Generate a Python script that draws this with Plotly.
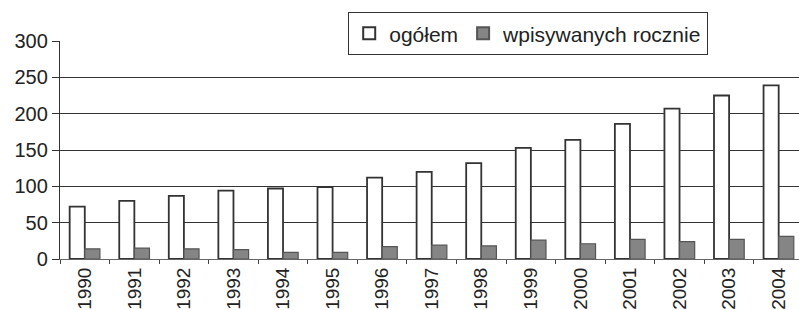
import plotly.graph_objects as go

years = [str(y) for y in range(1990, 2005)]
ogolem = [72, 80, 87, 94, 97, 99, 112, 120, 132, 153, 164, 186, 207, 225, 239]
wpisywanych = [14, 15, 14, 13, 9, 9, 17, 19, 18, 26, 21, 27, 24, 27, 31]

font_family = "Liberation Sans, Arial, sans-serif"
txt = "#222222"

fig = go.Figure()
fig.add_trace(go.Bar(
    x=years, y=ogolem, name="ogółem",
    marker=dict(color="white", line=dict(color="#333333", width=1.8)),
))
fig.add_trace(go.Bar(
    x=years, y=wpisywanych, name="wpisywanych rocznie",
    marker=dict(color="#858585", line=dict(color="#555555", width=1.2)),
))

fig.update_layout(
    width=799, height=310,
    margin=dict(l=60, r=0, t=41, b=51, pad=0, autoexpand=False),
    paper_bgcolor="white", plot_bgcolor="white",
    barmode="group", bargap=0.39, bargroupgap=0,
    font=dict(family=font_family, color=txt, size=19),
    showlegend=True,
    legend=dict(
        orientation="h", x=(348 - 60) / 739, y=(259 - 12) / 218,
        xanchor="left", yanchor="top",
        bgcolor="white", bordercolor="#333333", borderwidth=1.2,
        font=dict(size=21, color=txt), itemsizing="constant",
        traceorder="normal",
    ),
)
fig.update_xaxes(
    type="category", range=[-0.5, 14.41], automargin=False,
    tickangle=-90, tickson="boundaries", ticks="outside", ticklen=4,
    tickcolor="#444444", showline=True, linecolor="#666666", linewidth=1,
    showgrid=False, tickfont=dict(size=19, color=txt),
)
fig.update_yaxes(
    range=[0, 300], dtick=50, tick0=0, automargin=False,
    ticks="outside", ticklen=7, tickcolor="#333333",
    showline=True, linecolor="#333333", linewidth=1.3,
    showgrid=True, gridcolor="#333333", gridwidth=1.2,
    zeroline=False, tickfont=dict(size=20, color=txt),
)

fig.write_html(
    "out.html",
    config={"displayModeBar": False},
    post_script="document.body.style.margin='0';document.body.style.overflow='hidden';",
)
